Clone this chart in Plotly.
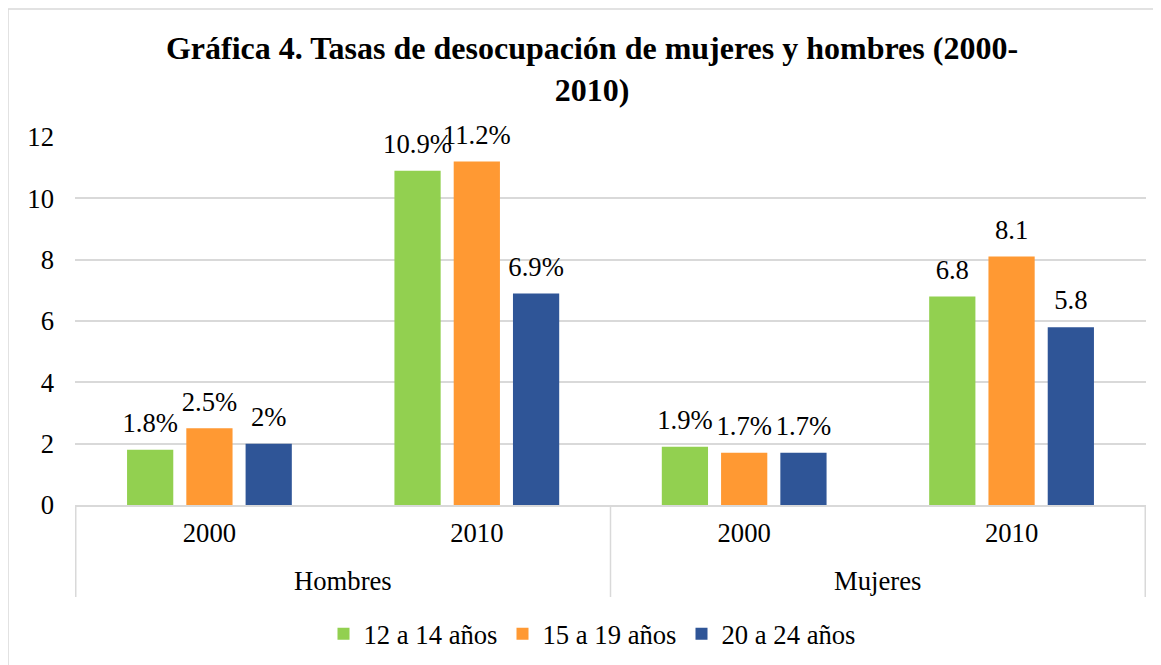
import plotly.graph_objects as go

groups = ["Hombres", "Hombres", "Mujeres", "Mujeres"]
years = ["2000", "2010", "2000", "2010"]
series_names = ["12 a 14 años", "15 a 19 años", "20 a 24 años"]
v_12_14 = [1.8, 10.9, 1.9, 6.8]
v_15_19 = [2.5, 11.2, 1.7, 8.1]
v_20_24 = [2.0, 6.9, 1.7, 5.8]
labels_12_14 = ["1.8%", "10.9%", "1.9%", "6.8"]
labels_15_19 = ["2.5%", "11.2%", "1.7%", "8.1"]
labels_20_24 = ["2%", "6.9%", "1.7%", "5.8"]
colors = ["#92D050", "#FF9933", "#2F5597"]
y_ticks = [0, 2, 4, 6, 8, 10, 12]

FONT = "Liberation Serif"
FS = 26.67
W, H = 1161, 665
OFF = 8  # page body margin
ML, MT = 75 - OFF, 137 - OFF
MR = W - (1146 - OFF)
MB = H - (505 - OFF)
GRID = "#D9D9D9"

keys = [f"{g} {y}" for g, y in zip(groups, years)]
pw = W - ML - MR
ph = H - MT - MB

fig = go.Figure()
for name, vals, col in zip(series_names, [v_12_14, v_15_19, v_20_24], colors):
    fig.add_trace(go.Bar(x=keys, y=vals, name=name, marker=dict(color=col, line=dict(width=0)),
                         hoverinfo="skip"))
for name, vals, labs in zip(series_names, [v_12_14, v_15_19, v_20_24],
                            [labels_12_14, labels_15_19, labels_20_24]):
    fig.add_trace(go.Scatter(x=keys, y=vals, text=labs, mode="markers+text", textposition="top center",
                             marker=dict(size=16, opacity=0), showlegend=False, cliponaxis=False,
                             textfont=dict(family=FONT, size=FS, color="#000000"), hoverinfo="skip"))

# group labels and dividers of the category axis
uniq = []
for g in groups:
    if g not in uniq:
        uniq.append(g)
bounds = [-0.5]
for g in uniq:
    idx = [i for i, gg in enumerate(groups) if gg == g]
    fig.add_annotation(x=sum(idx) / len(idx), xref="x", y=(505 - 581) / ph, yref="paper",
                       text=g, showarrow=False, yanchor="middle",
                       font=dict(family=FONT, size=FS, color="#000000"))
    bounds.append(max(idx) + 0.5)
for b in bounds:
    fig.add_shape(type="line", xref="x", yref="paper", x0=b, x1=b, y0=0, y1=(505 - 597) / ph,
                  line=dict(color=GRID, width=1.5))

fig.add_shape(type="rect", xref="paper", yref="paper",
              x0=(8 - 75) / pw, x1=(1200 - 75) / pw,
              y0=(505 - 720) / ph, y1=1 + (137 - 9) / ph,
              line=dict(color=GRID, width=1.5), fillcolor="rgba(0,0,0,0)", layer="below")

fig.update_layout(
    width=W, height=H,
    margin=dict(l=ML, r=MR, t=MT, b=MB, autoexpand=False),
    paper_bgcolor="white", plot_bgcolor="white",
    font=dict(family=FONT, size=FS, color="#000000"),
    title=dict(text="<b>Gráfica 4. Tasas de desocupación de mujeres y hombres (2000-<br>2010)</b>",
               x=584 / W, xanchor="center", y=1 - 51 / H, yanchor="middle",
               font=dict(family=FONT, size=32, color="#000000")),
    barmode="group", bargap=0.335, bargroupgap=0.22,
    scattermode="group", scattergap=0.335,
    showlegend=True,
    legend=dict(orientation="h", x=(584 - ML) / pw, xanchor="center", y=(505 - 634) / ph, yanchor="middle",
                font=dict(family=FONT, size=FS, color="#000000"), itemwidth=30,
                traceorder="normal"),
    xaxis=dict(type="category", showgrid=False, showline=True, linecolor=GRID, linewidth=1.5,
               tickvals=keys, ticktext=years, automargin=False,
               tickfont=dict(family=FONT, size=FS, color="#000000"), ticks="", ticklabelstandoff=3),
    yaxis=dict(range=[0, 12], tickvals=y_ticks, showgrid=True, gridcolor=GRID, gridwidth=1.5,
               zeroline=False, showline=False, ticks="", ticklabelstandoff=20, automargin=False,
               tickfont=dict(family=FONT, size=FS, color="#000000")),
)

fig.write_html("out.html")
